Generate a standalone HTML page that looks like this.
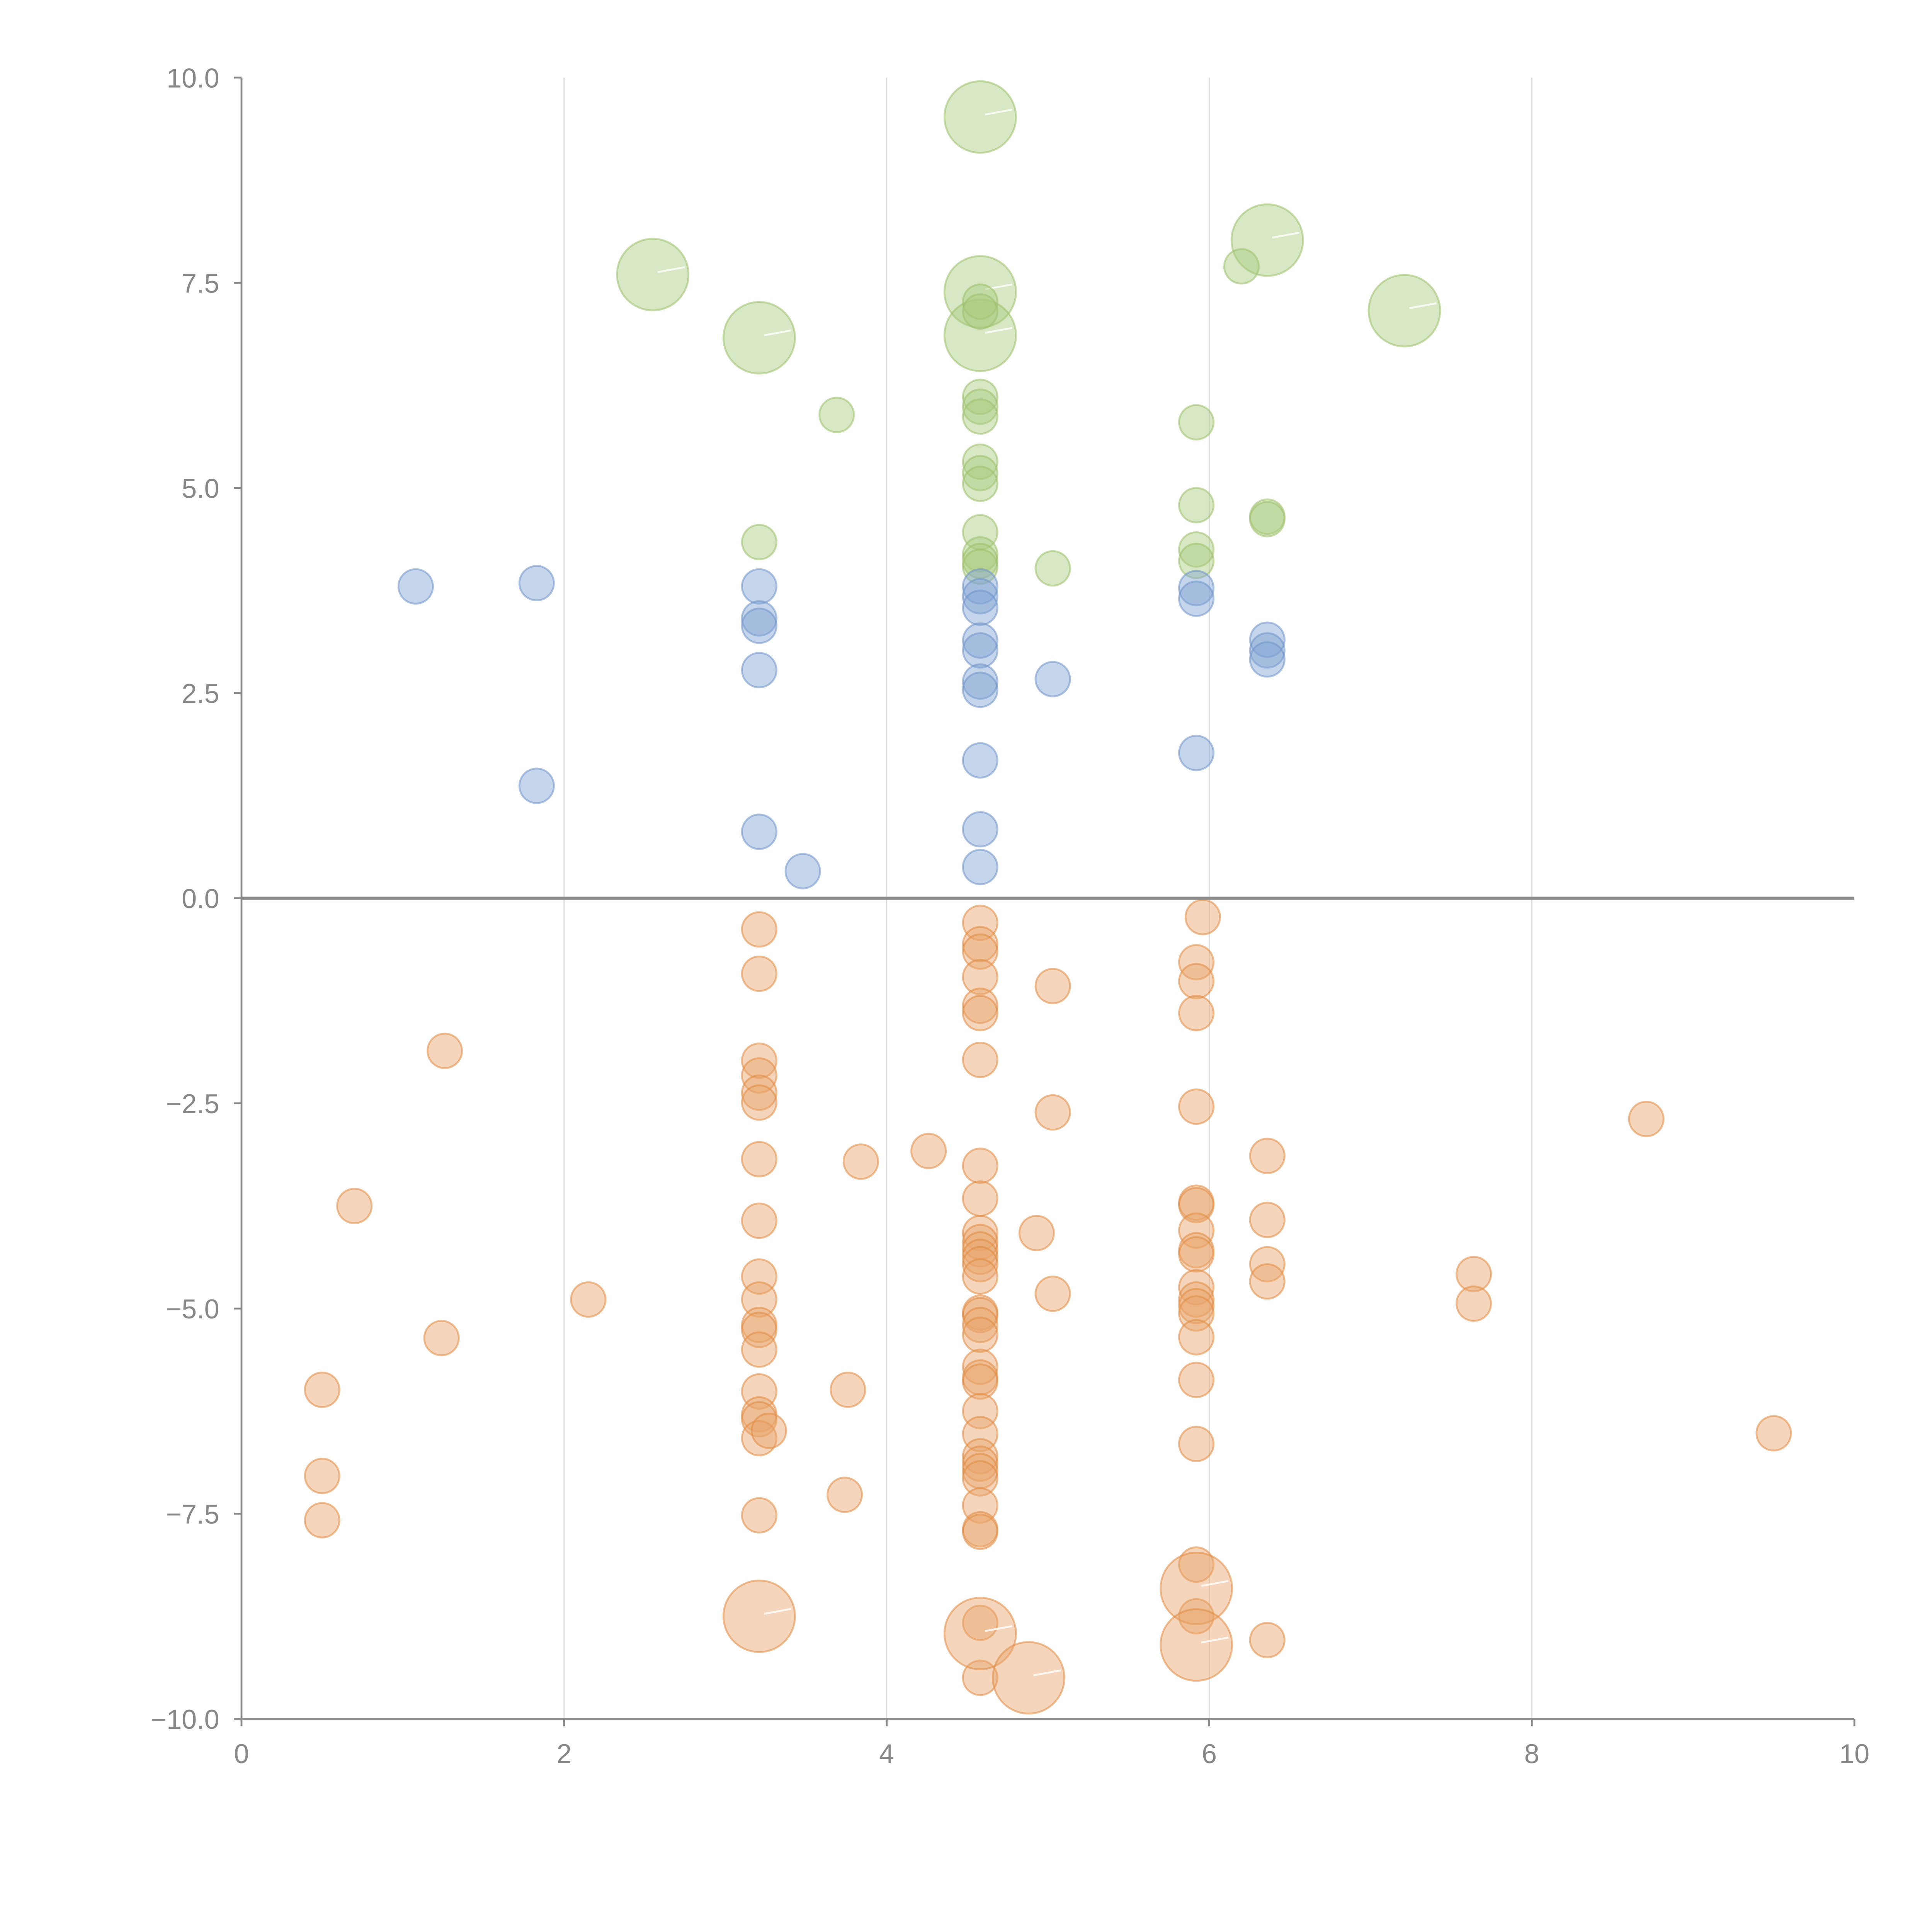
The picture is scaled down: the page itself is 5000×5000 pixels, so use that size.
<!DOCTYPE html>
<html><head><meta charset="utf-8"><style>
html,body{margin:0;padding:0;background:#fff;}
svg{display:block;}
text{font-family:"Liberation Sans",Arial,sans-serif;fill:#888;}
</style></head><body>
<svg id="chart" width="5000" height="5000" viewBox="0 0 1568 1568" xmlns="http://www.w3.org/2000/svg">
<g id="grid"></g>
<g id="marks"></g>
<g id="axes"></g>
</svg>
<script>
const xTicks=[0,2,4,6,8,10];
const yTicks=[-10,-7.5,-5,-2.5,0,2.5,5,7.5,10];
const xTickLabels=["0","2","4","6","8","10"];
const yTickLabels=["\u221210.0","\u22127.5","\u22125.0","\u22122.5","0.0","2.5","5.0","7.5","10.0"];
const greenX=[4.58,2.55,6.36,3.21,4.58,4.58,7.21,6.20,4.58,4.58,3.69,4.58,4.58,4.58,5.92,4.58,4.58,4.58,5.92,6.36,6.36,3.21,4.58,5.92,4.58,4.58,5.92,5.03,4.58];
const greenY=[9.52,7.60,8.02,6.83,7.39,6.86,7.16,7.70,7.27,7.15,5.89,6.11,5.99,5.87,5.80,5.32,5.18,5.05,4.79,4.65,4.62,4.34,4.46,4.25,4.19,4.11,4.11,4.02,4.04];
const greenS=[4.3,4.3,4.3,4.3,4.3,4.3,4.3,1,1,1,1,1,1,1,1,1,1,1,1,1,1,1,1,1,1,1,1,1,1];
const blueX=[1.08,1.83,3.21,3.21,3.21,3.21,1.83,3.21,3.48,4.58,4.58,4.58,4.58,4.58,4.58,4.58,5.03,4.58,4.58,4.58,5.92,5.92,5.92,6.36,6.36,6.36];
const blueY=[3.80,3.84,3.80,3.41,3.32,2.78,1.37,0.81,0.33,3.80,3.68,3.54,3.14,3.02,2.64,2.54,2.67,1.68,0.84,0.38,3.78,3.65,1.77,3.15,3.02,2.91];
const orangeX=[3.21,3.21,3.21,3.21,3.21,3.21,3.21,3.21,3.21,3.21,3.21,3.21,3.21,3.21,3.21,3.21,3.21,3.21,3.27,
4.58,4.58,4.58,4.58,4.58,4.58,4.58,4.58,4.58,4.58,4.58,4.58,4.58,4.58,4.58,4.58,4.58,4.58,4.58,4.58,4.58,4.58,4.58,4.58,4.58,4.58,4.58,4.58,4.58,4.58,4.58,4.58,4.58,
5.92,5.92,5.92,5.92,5.92,5.92,5.92,5.92,5.92,5.92,5.92,5.92,5.92,5.92,5.92,5.92,5.92,5.92,5.96,
6.36,6.36,6.36,6.36,6.36,5.03,5.03,5.03,
1.26,0.70,2.15,1.24,0.50,0.50,0.50,3.84,4.26,3.76,3.74,4.93,7.64,7.64,8.71,9.50,
3.21,4.58,4.88,5.92,5.92];
const orangeY=[-0.38,-0.92,-1.98,-2.16,-2.37,-2.49,-3.18,-3.93,-4.61,-4.89,-5.20,-5.26,-5.50,-6.01,-6.29,-6.35,-6.58,-7.52,-6.49,
-0.30,-0.56,-0.65,-0.96,-1.31,-1.40,-1.97,-3.26,-3.66,-4.08,-4.19,-4.28,-4.37,-4.46,-4.61,-5.05,-5.08,-5.20,-5.32,-5.71,-5.84,-5.89,-6.25,-6.53,-6.80,-6.89,-6.98,-7.07,-7.40,-7.69,-7.72,-8.83,-9.50,
-0.78,-1.01,-1.40,-2.54,-3.71,-3.74,-4.05,-4.29,-4.34,-4.74,-4.89,-4.97,-5.06,-5.35,-5.87,-6.65,-8.12,-8.75,-0.23,
-3.14,-3.92,-4.46,-4.67,-9.04,-1.07,-2.61,-4.82,
-1.86,-3.75,-4.89,-5.36,-5.99,-7.04,-7.58,-3.21,-3.08,-5.99,-7.27,-4.08,-4.58,-4.94,-2.69,-6.52,
-8.75,-8.96,-9.50,-8.41,-9.10];
const orangeS=orangeY.map((v,i)=>i>=orangeY.length-5?4.3:1);
const NS="http://www.w3.org/2000/svg";
const X0=196,X1=1505,Y0=1395,Y1=63;
function sx(v){return X0+(v-0)/(10-0)*(X1-X0);}
function sy(v){return Y0-(v+10)/20*(Y0-Y1);}
function mk(t,a,p){const e=document.createElementNS(NS,t);for(const k in a)e.setAttribute(k,a[k]);p.appendChild(e);return e;}
const grid=document.getElementById('grid'),marks=document.getElementById('marks'),axes=document.getElementById('axes');
xTicks.forEach(v=>{if(v>0&&v<10){const l=mk('line',{x1:sx(v),x2:sx(v),y1:Y1,y2:Y0,stroke:'#dcdcdc','stroke-width':1},grid);

}});
function draw(xs,ys,ss,fill,stroke,name){
  xs.forEach((x,i)=>{const r=14*Math.sqrt(ss[i]);
    const c=mk('circle',{cx:sx(x),cy:sy(ys[i]),r:r,fill:fill,'fill-opacity':0.45,stroke:stroke,'stroke-opacity':0.55,'stroke-width':1.5},marks);
    
    
    if(ss[i]>2){const w=mk('line',{x1:sx(x)+4,y1:sy(ys[i])-2,x2:sx(x)+26,y2:sy(ys[i])-6,stroke:'#fff','stroke-width':1.5,'stroke-opacity':0.8},marks);
      
      }
  });
}
draw(greenX,greenY,greenS,'#a9c97c','#9cc06a','bubble-green');
draw(blueX,blueY,blueX.map(()=>1),'#7ea1d3','#6f94c9','bubble-blue');
draw(orangeX,orangeY,orangeS,'#e9a46a','#e08a40','bubble-orange');
const zl=mk('line',{x1:X0,x2:X1,y1:sy(0),y2:sy(0),stroke:'#888','stroke-width':2.5},axes);


const ya=mk('line',{x1:X0,x2:X0,y1:Y1,y2:Y0,stroke:'#888','stroke-width':1.5},axes);


const xa=mk('line',{x1:X0,x2:X1,y1:Y0,y2:Y0,stroke:'#888','stroke-width':1.5},axes);


xTicks.forEach((v,i)=>{const t=mk('line',{x1:sx(v),x2:sx(v),y1:Y0,y2:Y0+6,stroke:'#888','stroke-width':1.5},axes);


const tx=mk('text',{x:sx(v),y:Y0+36,'text-anchor':'middle','font-size':22},axes);tx.textContent=xTickLabels[i];

});
yTicks.forEach((v,i)=>{const t=mk('line',{x1:X0-6,x2:X0,y1:sy(v),y2:sy(v),stroke:'#888','stroke-width':1.5},axes);


const tx=mk('text',{x:X0-18,y:sy(v)+8,'text-anchor':'end','font-size':22},axes);tx.textContent=yTickLabels[i];

});
</script>
</body></html>
